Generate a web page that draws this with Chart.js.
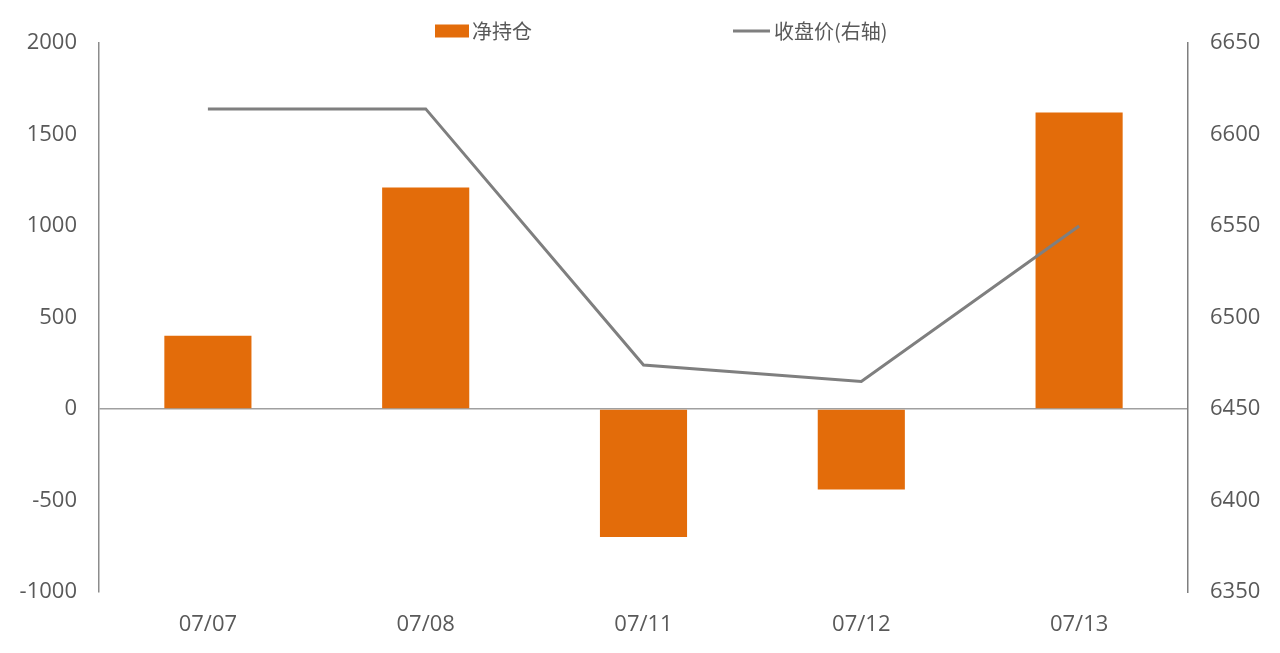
<!DOCTYPE html>
<html>
<head>
<meta charset="utf-8">
<script src="https://cdn.jsdelivr.net/npm/chart.js@4"></script>
<style>
  html, body { margin: 0; padding: 0; background: #fff; }
  #wrap { width: 1280px; height: 653px; }
</style>
</head>
<body>
<div id="wrap"><canvas id="chart" width="1280" height="653"></canvas></div>
<script>
// dados
const datas = ['07/07', '07/08', '07/11', '07/12', '07/13'];
const posicaoLiquida = [400, 1210, -700, -440, 1620];
const precoFechamento = [6614, 6614, 6474, 6465, 6550];
const nomeBarra = '净持仓';
const nomeLinha = '收盘价(右轴)';

const corBarra = '#E36C0A';
const corLinha = '#7F7F7F';
const corTexto = '#595959';

// legenda desenhada à mão, no topo
const legendaTopo = {
  id: 'legendaTopo',
  afterDraw(chart) {
    const ctx = chart.ctx;
    const cx = chart.width / 2;
    const y = 31;
    ctx.save();
    ctx.font = '20px "Noto Sans CJK SC"';
    ctx.textBaseline = 'middle';
    // barra
    ctx.fillStyle = corBarra;
    ctx.fillRect(cx - 205, y - 6.5, 34, 13);
    ctx.fillStyle = corTexto;
    ctx.fillText(nomeBarra, cx - 168, y);
    // linha
    ctx.strokeStyle = corLinha;
    ctx.lineWidth = 3;
    ctx.beginPath();
    ctx.moveTo(cx + 93, y);
    ctx.lineTo(cx + 130, y);
    ctx.stroke();
    ctx.fillText(nomeLinha, cx + 134, y);
    ctx.restore();
  }
};

const semSeparador = (v) => String(v);

const ctx = document.getElementById('chart').getContext('2d');
new Chart(ctx, {
  data: {
    labels: datas,
    datasets: [
      {
        type: 'line',
        label: nomeLinha,
        data: precoFechamento,
        yAxisID: 'y1',
        borderColor: corLinha,
        borderWidth: 3,
        pointRadius: 0,
        tension: 0,
        fill: false,
        order: 1
      },
      {
        type: 'bar',
        label: nomeBarra,
        data: posicaoLiquida,
        yAxisID: 'y',
        backgroundColor: corBarra,
        borderWidth: 0,
        barPercentage: 0.4,
        categoryPercentage: 1,
        order: 2
      }
    ]
  },
  options: {
    responsive: false,
    animation: false,
    layout: { padding: { top: 43, left: 0, right: 0, bottom: 0 } },
    plugins: {
      legend: { display: false },
      tooltip: { enabled: false }
    },
    scales: {
      x: {
        grid: { display: false, drawTicks: false },
        border: { display: false },
        ticks: {
          padding: 20,
          color: corTexto,
          font: { family: 'Open Sans', size: 22 }
        },
        afterFit: (s) => { s.height = 61; }
      },
      y: {
        position: 'left',
        min: -1000,
        max: 2000,
        ticks: {
          stepSize: 500,
          padding: 22,
          color: corTexto,
          font: { family: 'Open Sans', size: 22 },
          callback: semSeparador
        },
        grid: {
          drawTicks: false,
          color: (c) => (c.tick && c.tick.value === 0 ? '#A0A0A0' : 'rgba(0,0,0,0)'),
          lineWidth: 1.5
        },
        border: { display: true, color: '#8C8C8C', width: 1.5 },
        afterFit: (s) => { s.width = 99; }
      },
      y1: {
        position: 'right',
        min: 6350,
        max: 6650,
        ticks: {
          stepSize: 50,
          padding: 22,
          color: corTexto,
          font: { family: 'Open Sans', size: 22 },
          callback: semSeparador
        },
        grid: { display: false, drawTicks: false },
        border: { display: true, color: '#7F7F7F', width: 1.5 },
        afterFit: (s) => { s.width = 92; }
      }
    }
  },
  plugins: [legendaTopo]
});
</script>
</body>
</html>
